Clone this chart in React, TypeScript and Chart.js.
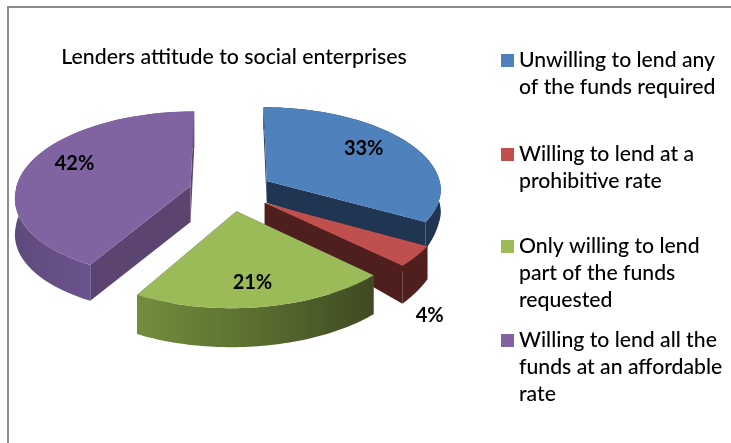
import { useEffect, useRef } from "react";
import { Chart, registerables } from "chart.js";

Chart.register(...registerables);

const titleText = "Lenders attitude to social enterprises";
const categories = [
  ["Unwilling to lend any", "of the funds required"],
  ["Willing to lend at a", "prohibitive rate"],
  ["Only willing to lend", "part of the funds", "requested"],
  ["Willing to lend all the", "funds at an affordable", "rate"],
];
const shares = [33, 4, 21, 42];
const topColors = ["#4f81bd", "#c0504d", "#9bbb59", "#8064a2"];
const wallColors = ["#1f3552", "#4f1f1d", "#5c4674", "#5b4570"];
const rimStops = [
  ["#1f3552", "#1f3552"],
  ["#4f1f1d", "#4f1f1d"],
  ["#728e3c", "#5a6e30", "#3f4a22"],
  ["#5f4a7c", "#6d5591", "#604a80"],
];
const explode = [42, 42, 42, 42];

const FONT = "Lato, sans-serif";
const RX = 175;
const RY = 83;
const PERSPECTIVE = 0.1;
const VANISH_SHIFT = 52;
// slices are painted back to front
const paintOrder = [3, 0, 1, 2];
const labelShift = [
  { x: 97, y: -32 },
  { x: 165, y: 113 },
  { x: 16, y: 71 },
  { x: -116, y: -23 },
];
const legendTops = [60, 154, 246, 340];

const wallDepth = (i: number, y: number) =>
  i < 2 ? Math.max(22, 19 + 23 * y) : i === 2 ? 39 : 36;

const pieDepthPlugin = {
  id: "pieDepth",
  beforeDatasetsDraw(chart: Chart) {
    const { ctx } = chart;
    const arcs = chart.getDatasetMeta(0).data as any[];
    for (const i of paintOrder) {
      const arc = arcs[i];
      const { x: cx, y: cy, startAngle, endAngle } = arc.getProps(["x", "y", "startAngle", "endAngle"], true);
      const mid = (startAngle + endAngle) / 2;
      const e = arc.options.offset / RX;
      const ox = Math.cos(mid) * e;
      const oy = Math.sin(mid) * e;
      // maps a point of the pie's plane to the canvas, nearer points appear larger
      const project = (X: number, Y: number) => {
        const s = 1 / (1 - PERSPECTIVE * Y);
        const drift = s > 1 ? VANISH_SHIFT * (s - 1) : 0;
        return { x: cx + X * RX * s - drift, y: cy + Y * RY * s, Y };
      };
      const apex = project(ox, oy);
      const rim: { x: number; y: number; Y: number }[] = [];
      const steps = 60;
      for (let k = 0; k <= steps; k++) {
        const a = startAngle + ((endAngle - startAngle) * k) / steps;
        rim.push(project(ox + Math.cos(a), oy + Math.sin(a)));
      }
      const quad = (p: any, q: any) => {
        ctx.beginPath();
        ctx.moveTo(p.x, p.y);
        ctx.lineTo(q.x, q.y);
        ctx.lineTo(q.x, q.y + wallDepth(i, q.Y));
        ctx.lineTo(p.x, p.y + wallDepth(i, p.Y));
        ctx.closePath();
        ctx.fill();
      };
      ctx.save();
      ctx.fillStyle = wallColors[i];
      quad(apex, rim[0]);
      quad(apex, rim[steps]);

      const xs = rim.map((p) => p.x);
      const grad = ctx.createLinearGradient(Math.min(...xs), 0, Math.max(...xs), 0);
      rimStops[i].forEach((c, n, all) => grad.addColorStop(n / (all.length - 1), c));
      ctx.fillStyle = grad;
      ctx.beginPath();
      rim.forEach((p, k) => (k ? ctx.lineTo(p.x, p.y) : ctx.moveTo(p.x, p.y)));
      for (let k = steps; k >= 0; k--) {
        ctx.lineTo(rim[k].x, rim[k].y + wallDepth(i, rim[k].Y));
      }
      ctx.closePath();
      ctx.fill();

      ctx.fillStyle = arc.options.backgroundColor;
      ctx.beginPath();
      ctx.moveTo(apex.x, apex.y);
      rim.forEach((p) => ctx.lineTo(p.x, p.y));
      ctx.closePath();
      ctx.fill();
      ctx.restore();

      ctx.save();
      ctx.fillStyle = "#000";
      ctx.font = `bold 20px ${FONT}`;
      ctx.textAlign = "center";
      ctx.textBaseline = "middle";
      ctx.fillText(`${shares[i]}%`, apex.x + labelShift[i].x, apex.y + labelShift[i].y);
      ctx.restore();
    }
    return false;
  },
  afterDraw(chart: Chart) {
    const { ctx } = chart;
    ctx.save();
    // outer frame
    ctx.strokeStyle = "#8c8c8c";
    ctx.lineWidth = 2;
    ctx.beginPath();
    ctx.moveTo(8, 443);
    ctx.lineTo(8, 7);
    ctx.lineTo(731, 7);
    ctx.stroke();

    // legend
    ctx.textBaseline = "middle";
    ctx.textAlign = "left";
    categories.forEach((lines, i) => {
      ctx.fillStyle = topColors[i];
      ctx.fillRect(501, legendTops[i] - 6, 13, 13);
      ctx.fillStyle = "#000";
      ctx.font = `500 21.2px ${FONT}`;
      lines.forEach((line, n) => ctx.fillText(line, 519, legendTops[i] + n * 27));
    });

    ctx.font = `500 21.3px ${FONT}`;
    ctx.textAlign = "center";
    ctx.fillText(titleText, 234, 57);
    ctx.restore();
  },
};

export default function App() {
  const ref = useRef<HTMLCanvasElement>(null);
  useEffect(() => {
    document.body.style.margin = "0";
    const chart = new Chart(ref.current!, {
      type: "pie",
      data: {
        labels: categories,
        datasets: [{ data: shares, backgroundColor: topColors, offset: explode, borderWidth: 0 }],
      },
      options: {
        animation: false,
        responsive: false,
        layout: { padding: { left: 58, right: 327, top: 18, bottom: 79 } },
        plugins: { legend: { display: false }, title: { display: false }, tooltip: { enabled: false } },
      },
      plugins: [pieDepthPlugin],
    });
    return () => chart.destroy();
  }, []);
  return <canvas ref={ref} width={731} height={443} style={{ display: "block" }} />;
}
